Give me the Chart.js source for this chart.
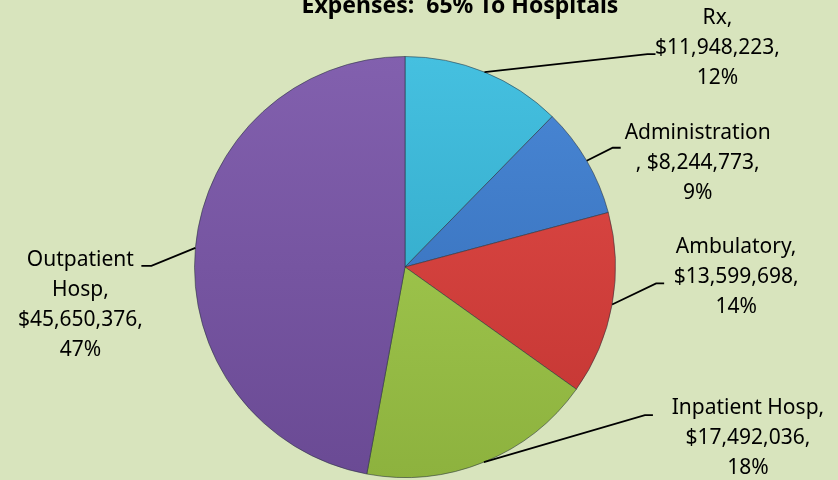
<!DOCTYPE html>
<html>
<head>
<meta charset="utf-8">
<script src="https://cdn.jsdelivr.net/npm/chart.js@4"></script>
<style>
  html, body { margin: 0; padding: 0; background: #d8e4bd; }
  #wrap { width: 838px; height: 480px; position: relative; overflow: hidden; }
</style>
</head>
<body>
<div id="wrap"><canvas id="pieChart" width="838" height="480"></canvas></div>
<script>
// Data
const categories = ['Rx', 'Administration', 'Ambulatory', 'Inpatient Hosp', 'Outpatient Hosp'];
const amounts = [11948223, 8244773, 13599698, 17492036, 45650376];
const percents = [12, 9, 14, 18, 47];
const titleText = 'Expenses:  65% To Hospitals';

// Slice colours (light top, dark bottom)
const lightColors = ['#45c0e0', '#4a88d6', '#e24c48', '#a9d156', '#8260ae'];
const darkColors = ['#2a9fbd', '#3068b2', '#c13431', '#8db23e', '#6a4a94'];

// Label text lines and where the leader line bends (offset from the slice's edge point)
const labelLines = [
  ['Rx,', '$11,948,223,', '12%'],
  ['Administration', ', $8,244,773,', '9%'],
  ['Ambulatory,', '$13,599,698,', '14%'],
  ['Inpatient Hosp,', '$17,492,036,', '18%'],
  ['Outpatient', 'Hosp,', '$45,650,376,', '47%']
];
const elbowOffset = [[163, -18], [26, -13], [44, -21], [161, -47], [-44, 18]];
const labelShift = [[70, -36], [85, -15], [80, -36], [103, -7], [-71, -6]]; // first text line centre from elbow

const sliceGradients = (ctx, chartArea) => {
  return lightColors.map((c, i) => {
    const g = ctx.createLinearGradient(0, chartArea.top, 0, chartArea.bottom);
    g.addColorStop(0, c);
    g.addColorStop(1, darkColors[i]);
    return g;
  });
};

const calloutPlugin = {
  id: 'callouts',
  afterDatasetsDraw(chart) {
    const { ctx } = chart;
    const meta = chart.getDatasetMeta(0);
    ctx.save();
    ctx.font = '21px "Noto Sans"';
    ctx.fillStyle = '#000';
    ctx.strokeStyle = '#000';
    ctx.lineWidth = 1.8;
    ctx.textAlign = 'center';
    ctx.textBaseline = 'middle';
    const lineH = 30;
    meta.data.forEach((arc, i) => {
      const mid = (arc.startAngle + arc.endAngle) / 2;
      const ex = arc.x + Math.cos(mid) * arc.outerRadius;
      const ey = arc.y + Math.sin(mid) * arc.outerRadius;
      const bx = ex + elbowOffset[i][0];
      const by = ey + elbowOffset[i][1];
      const right = elbowOffset[i][0] >= 0;
      const hx = bx + (right ? 8 : -10);
      ctx.beginPath();
      ctx.moveTo(ex, ey);
      ctx.lineTo(bx, by);
      ctx.lineTo(hx, by);
      ctx.stroke();
      const cx = bx + labelShift[i][0];
      const top = by + labelShift[i][1];
      labelLines[i].forEach((t, k) => ctx.fillText(t, cx, top + k * lineH));
    });
    ctx.restore();
  }
};

const titlePlugin = {
  id: 'cutTitle',
  afterDraw(chart) {
    const { ctx } = chart;
    ctx.save();
    ctx.font = 'bold 23px "Noto Sans"';
    ctx.fillStyle = '#000';
    ctx.textAlign = 'center';
    ctx.textBaseline = 'alphabetic';
    ctx.fillText(titleText, 460, 13);
    ctx.restore();
  }
};

const ctxPie = document.getElementById('pieChart').getContext('2d');
new Chart(ctxPie, {
  type: 'pie',
  data: {
    labels: categories,
    datasets: [{
      data: amounts,
      backgroundColor: (c) => {
        const area = c.chart.chartArea;
        if (!area) return lightColors[c.dataIndex];
        return sliceGradients(c.chart.ctx, area)[c.dataIndex];
      },
      borderColor: 'rgba(40, 50, 60, 0.55)',
      borderWidth: 1
    }]
  },
  options: {
    responsive: false,
    animation: false,
    layout: { padding: { top: 56, bottom: 2, left: 194, right: 222 } },
    plugins: {
      legend: { display: false },
      title: { display: false },
      tooltip: { enabled: false }
    }
  },
  plugins: [calloutPlugin, titlePlugin]
});
</script>
</body>
</html>
